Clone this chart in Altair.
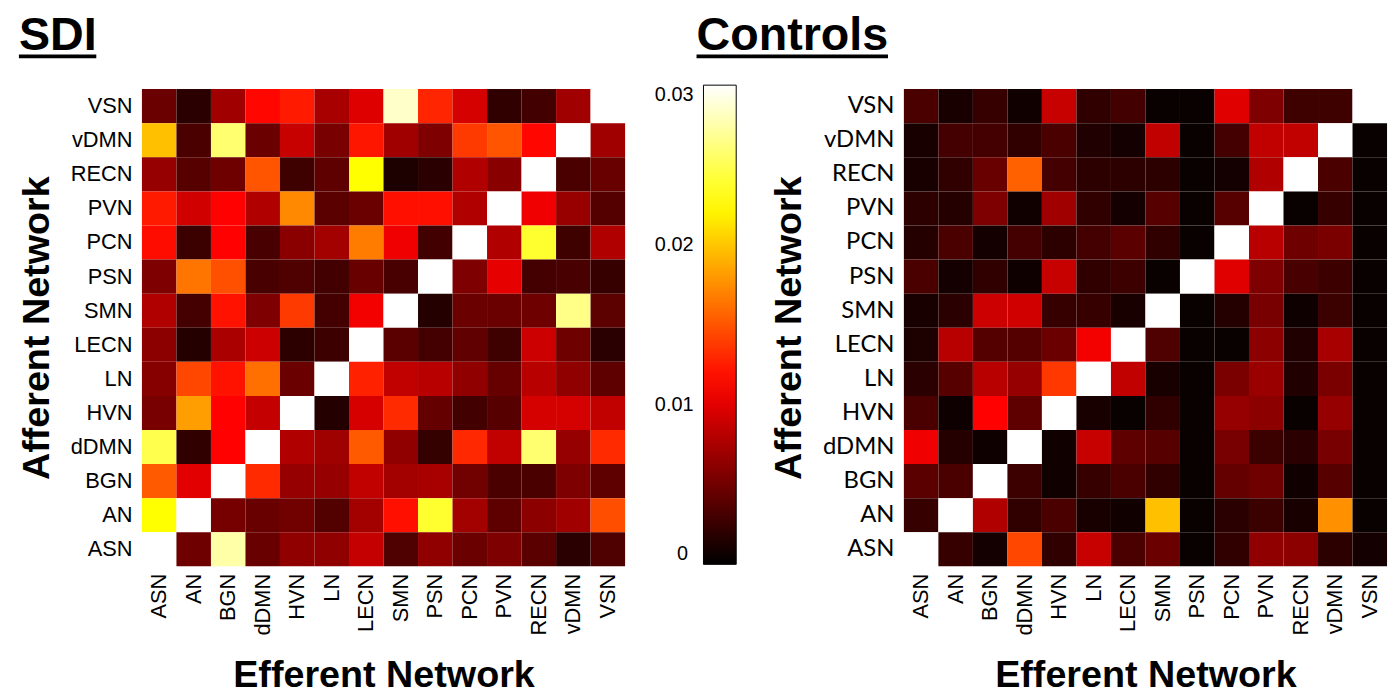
import altair as alt
import pandas as pd

# Row (afferent) order top -> bottom, column (efferent) order left -> right
rows = ["VSN", "vDMN", "RECN", "PVN", "PCN", "PSN", "SMN", "LECN", "LN", "HVN", "dDMN", "BGN", "AN", "ASN"]
cols = ["ASN", "AN", "BGN", "dDMN", "HVN", "LN", "LECN", "SMN", "PSN", "PCN", "PVN", "RECN", "vDMN", "VSN"]
bar_ticks = [0, 0.01, 0.02, 0.03]

# ---- SDI (values per afferent row, columns in `cols` order) ----
sdi_VSN = [0.0047, 0.0019, 0.0071, 0.0115, 0.0124, 0.0074, 0.0098, 0.0284, 0.0129, 0.0094, 0.0021, 0.0029, 0.0071, 0.03]
sdi_vDMN = [0.0197, 0.0033, 0.0258, 0.0047, 0.0088, 0.0053, 0.0122, 0.0071, 0.0056, 0.0138, 0.015, 0.0115, 0.03, 0.0071]
sdi_RECN = [0.0066, 0.0038, 0.0049, 0.015, 0.0028, 0.0042, 0.0225, 0.0013, 0.0019, 0.0078, 0.006, 0.03, 0.0033, 0.0046]
sdi_PVN = [0.0124, 0.0092, 0.0113, 0.0078, 0.0173, 0.004, 0.0047, 0.0119, 0.0119, 0.0078, 0.03, 0.0106, 0.0067, 0.0037]
sdi_PCN = [0.0118, 0.0026, 0.0113, 0.0032, 0.0061, 0.0072, 0.0167, 0.0106, 0.0029, 0.03, 0.0078, 0.0239, 0.0028, 0.0078]
sdi_PSN = [0.0056, 0.0164, 0.0148, 0.0032, 0.0035, 0.0029, 0.0046, 0.0032, 0.03, 0.0056, 0.0102, 0.003, 0.0032, 0.0024]
sdi_SMN = [0.0078, 0.003, 0.0121, 0.0056, 0.0138, 0.003, 0.0107, 0.03, 0.0016, 0.0047, 0.0047, 0.0049, 0.0265, 0.0041]
sdi_LECN = [0.0062, 0.0016, 0.0075, 0.009, 0.002, 0.0027, 0.03, 0.004, 0.003, 0.0043, 0.0028, 0.009, 0.0049, 0.0019]
sdi_LN = [0.0059, 0.0144, 0.0121, 0.0162, 0.0047, 0.03, 0.0127, 0.0085, 0.0081, 0.0064, 0.0045, 0.0081, 0.0064, 0.0042]
sdi_HVN = [0.0053, 0.0182, 0.0113, 0.0087, 0.03, 0.0016, 0.0095, 0.0131, 0.0044, 0.0029, 0.0038, 0.0094, 0.0094, 0.0085]
sdi_dDMN = [0.0248, 0.0021, 0.0113, 0.03, 0.0078, 0.007, 0.0152, 0.0064, 0.0023, 0.013, 0.0085, 0.0258, 0.0066, 0.0131]
sdi_BGN = [0.0152, 0.01, 0.03, 0.0131, 0.0066, 0.0066, 0.0085, 0.0072, 0.0074, 0.005, 0.0033, 0.0033, 0.0056, 0.0042]
sdi_AN = [0.0225, 0.03, 0.0052, 0.0046, 0.005, 0.0036, 0.0072, 0.0119, 0.0239, 0.0072, 0.0042, 0.0062, 0.0071, 0.0147]
sdi_ASN = [0.03, 0.0049, 0.0274, 0.0046, 0.0064, 0.0064, 0.0087, 0.0035, 0.0064, 0.0047, 0.0056, 0.004, 0.0019, 0.0035]

# ---- Controls ----
ctl_VSN = [0.0033, 0.0011, 0.0024, 0.0007, 0.0088, 0.0021, 0.0029, 0.0004, 0.0004, 0.0099, 0.0056, 0.0028, 0.0028, 0.03]
ctl_vDMN = [0.0011, 0.003, 0.003, 0.0021, 0.0033, 0.0014, 0.0009, 0.0085, 0.0004, 0.003, 0.0085, 0.0085, 0.03, 0.0004]
ctl_RECN = [0.0011, 0.0021, 0.0046, 0.0155, 0.003, 0.002, 0.002, 0.002, 0.0004, 0.0009, 0.0078, 0.03, 0.0033, 0.0004]
ctl_PVN = [0.002, 0.0016, 0.0056, 0.0007, 0.0071, 0.0021, 0.0009, 0.0038, 0.0004, 0.0038, 0.03, 0.0004, 0.0024, 0.0004]
ctl_PCN = [0.0016, 0.0033, 0.0009, 0.003, 0.002, 0.003, 0.004, 0.0021, 0.0004, 0.03, 0.0081, 0.0049, 0.0054, 0.0004]
ctl_PSN = [0.0033, 0.0009, 0.0021, 0.0006, 0.0088, 0.0021, 0.0027, 0.0004, 0.03, 0.0099, 0.0056, 0.0032, 0.0027, 0.0004]
ctl_SMN = [0.0011, 0.0019, 0.009, 0.0092, 0.0024, 0.0024, 0.0011, 0.03, 0.0004, 0.0016, 0.0053, 0.0006, 0.0026, 0.0004]
ctl_LECN = [0.0013, 0.0081, 0.0037, 0.0037, 0.0047, 0.0107, 0.03, 0.0035, 0.0004, 0.0004, 0.0062, 0.0014, 0.0074, 0.0004]
ctl_LN = [0.0019, 0.0038, 0.0081, 0.0066, 0.0137, 0.03, 0.0085, 0.0011, 0.0004, 0.0054, 0.0068, 0.0014, 0.0054, 0.0004]
ctl_HVN = [0.0033, 0.0006, 0.0113, 0.0042, 0.03, 0.0011, 0.0004, 0.0021, 0.0004, 0.0066, 0.0062, 0.0004, 0.0066, 0.0004]
ctl_dDMN = [0.0106, 0.0016, 0.0006, 0.03, 0.0007, 0.0088, 0.0042, 0.0038, 0.0004, 0.0053, 0.0026, 0.0019, 0.0053, 0.0004]
ctl_BGN = [0.004, 0.0033, 0.03, 0.0027, 0.0007, 0.0024, 0.0033, 0.0021, 0.0004, 0.0044, 0.0049, 0.0007, 0.0038, 0.0004]
ctl_AN = [0.0024, 0.03, 0.0078, 0.0021, 0.0033, 0.0011, 0.0007, 0.0197, 0.0004, 0.0019, 0.0026, 0.0011, 0.0176, 0.0004]
ctl_ASN = [0.03, 0.0024, 0.0009, 0.0144, 0.0021, 0.0088, 0.0033, 0.0047, 0.0004, 0.0021, 0.0064, 0.0062, 0.002, 0.0009]

sdi_rows = [sdi_VSN, sdi_vDMN, sdi_RECN, sdi_PVN, sdi_PCN, sdi_PSN, sdi_SMN,
            sdi_LECN, sdi_LN, sdi_HVN, sdi_dDMN, sdi_BGN, sdi_AN, sdi_ASN]
ctl_rows = [ctl_VSN, ctl_vDMN, ctl_RECN, ctl_PVN, ctl_PCN, ctl_PSN, ctl_SMN,
            ctl_LECN, ctl_LN, ctl_HVN, ctl_dDMN, ctl_BGN, ctl_AN, ctl_ASN]


def to_frame(matrix):
    recs = []
    for r, vals in zip(rows, matrix):
        for c, v in zip(cols, vals):
            recs.append({"Afferent": r, "Efferent": c, "value": v})
    return pd.DataFrame(recs)


FONT = "Liberation Sans"
hot = alt.Scale(domain=[0, 0.01125, 0.0225, 0.03],
                range=["#000000", "#ff0000", "#ffff00", "#ffffff"],
                interpolate="rgb", clamp=True)

bar_legend = alt.Legend(
    orient="none", legendX=566, legendY=-4, direction="vertical",
    gradientLength=483, gradientThickness=33, title=None,
    values=bar_ticks, format=".2~f", labelOffset={"expr": "-82"},
    labelExpr="datum.label == '0' ? '\u200b\u00a0\u00a0\u00a0\u00a00' : datum.label",
    labelFontSize=20, labelFont=FONT, labelColor="black", labelOverlap=False,
    gradientStrokeColor="black", gradientStrokeWidth=1, padding=0,
)


def heatmap(df, title_text, title_x, title_w, ylab_font, ylab_size, legend):
    xaxis = alt.Axis(title="Efferent Network", titleFont=FONT, titleFontSize=38,
                     titleFontWeight="bold", titleColor="black", titlePadding=22,
                     labelFont=FONT, labelFontSize=22, labelColor="black",
                     labelAngle=-90, labelPadding=7, ticks=False, domain=False)
    yaxis = alt.Axis(title="Afferent Network", titleFont=FONT, titleFontSize=38,
                     titleFontWeight="bold", titleColor="black", titlePadding=14,
                     labelFont=ylab_font, labelFontSize=ylab_size, labelColor="black",
                     labelPadding=10, ticks=False, domain=False)
    base = alt.Chart(df).mark_rect().encode(
        x=alt.X("Efferent:N", sort=cols, scale=alt.Scale(paddingInner=0, paddingOuter=0), axis=xaxis),
        y=alt.Y("Afferent:N", sort=rows, scale=alt.Scale(paddingInner=0, paddingOuter=0), axis=yaxis),
        color=alt.Color("value:Q", scale=hot, legend=legend),
    )
    tdf = pd.DataFrame({"label": [title_text]})
    txt = alt.Chart(tdf).mark_text(
        font=FONT, fontSize=47, fontWeight="bold", align="left", baseline="alphabetic", color="black"
    ).encode(text="label:N", x=alt.value(title_x), y=alt.value(-39))
    line = alt.Chart(tdf).mark_rule(color="black", strokeWidth=4).encode(
        x=alt.value(title_x), x2=alt.value(title_x + title_w), y=alt.value(-33)
    )
    return alt.layer(base, txt, line).properties(width=487, height=481)


left = heatmap(to_frame(sdi_rows), "SDI", -124, 78, FONT, 22, bar_legend)
right = heatmap(to_frame(ctl_rows), "Controls", -209, 193, "Lato", 24, None)

chart = alt.hconcat(left, right, spacing=281, bounds="flush").resolve_scale(
    color="independent"
).configure_view(stroke=None).properties(
    padding={"left": 9, "top": 2, "right": 5, "bottom": 5}
)

chart.save("out.html", embed_options={"renderer": "svg", "actions": False})
